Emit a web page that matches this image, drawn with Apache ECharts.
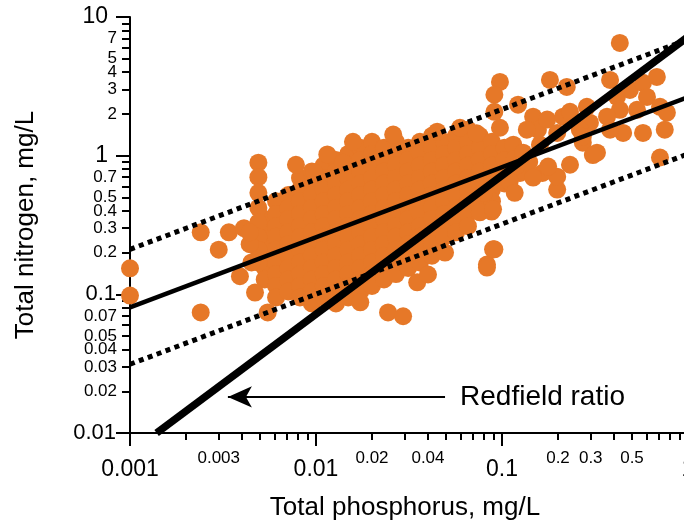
<!DOCTYPE html>
<html><head><meta charset="utf-8">
<script src="https://cdn.jsdelivr.net/npm/echarts@6/dist/echarts.min.js"></script>
<style>html,body{margin:0;padding:0;background:#fff}#c{width:684px;height:525px}</style>
</head><body><div id="c"></div>
<script>
// ---- data (total phosphorus mg/L, total nitrogen mg/L) ----
// dense core of the cloud, one phosphorus value per column with its nitrogen values
const coreColumns = [
  [0.0053, [0.35, 0.285, 0.23, 0.19, 0.155, 0.128]],
  [0.0061, [0.47, 0.38, 0.31, 0.26, 0.21, 0.17, 0.14, 0.115, 0.095]],
  [0.0071, [0.52, 0.42, 0.35, 0.28, 0.23, 0.19, 0.155, 0.128, 0.105]],
  [0.0082, [0.69, 0.57, 0.47, 0.38, 0.31, 0.26, 0.21, 0.17, 0.14, 0.115, 0.095]],
  [0.0095, [0.77, 0.63, 0.52, 0.42, 0.35, 0.28, 0.23, 0.19, 0.155, 0.128, 0.105, 0.086]],
  [0.011,  [0.85, 0.69, 0.57, 0.47, 0.38, 0.31, 0.26, 0.21, 0.17, 0.14, 0.115, 0.095]],
  [0.0128, [0.93, 0.77, 0.63, 0.52, 0.42, 0.35, 0.28, 0.23, 0.19, 0.155, 0.128, 0.105, 0.086]],
  [0.0149, [1.03, 0.85, 0.69, 0.57, 0.47, 0.38, 0.31, 0.26, 0.21, 0.17, 0.14, 0.115, 0.095]],
  [0.0173, [1.14, 0.93, 0.77, 0.63, 0.52, 0.42, 0.35, 0.28, 0.23, 0.19, 0.155, 0.128, 0.105]],
  [0.020,  [1.26, 1.03, 0.85, 0.69, 0.57, 0.47, 0.38, 0.31, 0.26, 0.21, 0.17, 0.14, 0.115]],
  [0.0232, [1.14, 0.93, 0.77, 0.63, 0.52, 0.42, 0.35, 0.28, 0.23, 0.19, 0.155, 0.128]],
  [0.0269, [1.26, 1.03, 0.85, 0.69, 0.57, 0.47, 0.38, 0.31, 0.26, 0.21, 0.17, 0.14]],
  [0.0313, [1.14, 0.93, 0.77, 0.63, 0.52, 0.42, 0.35, 0.28, 0.23, 0.19, 0.155]],
  [0.0362, [1.26, 1.03, 0.85, 0.69, 0.57, 0.47, 0.38, 0.31, 0.26, 0.21, 0.17]],
  [0.042,  [1.39, 1.14, 0.93, 0.77, 0.63, 0.52, 0.42, 0.35, 0.28, 0.23, 0.19]],
  [0.0488, [1.26, 1.03, 0.85, 0.69, 0.57, 0.47, 0.38, 0.31, 0.26]],
  [0.0566, [1.39, 1.14, 0.93, 0.77, 0.63, 0.52, 0.42, 0.35, 0.28]],
  [0.0656, [1.54, 1.26, 1.03, 0.85, 0.69, 0.57, 0.47, 0.38, 0.31]],
  [0.076,  [1.39, 1.14, 0.93, 0.77, 0.63, 0.52, 0.42]],
  [0.0883, [1.26, 1.03, 0.85, 0.69, 0.57, 0.47]],
  [0.103,  [1.14, 0.93, 0.77, 0.63]]
];
// low-phosphorus samples
const lowSamples = [
  [0.001, 0.154], [0.001, 0.098], [0.0024, 0.28], [0.003, 0.21], [0.0034, 0.28],
  [0.0041, 0.30], [0.0024, 0.074], [0.0039, 0.135], [0.0047, 0.103], [0.0055, 0.074],
  [0.0049, 0.89], [0.0049, 0.70], [0.0049, 0.54], [0.0049, 0.42], [0.0049, 0.33],
  [0.0049, 0.26], [0.0049, 0.21], [0.0049, 0.17], [0.0044, 0.23], [0.0044, 0.28], [0.0045, 0.17]
];
// samples on the edges of the core
const edgeSamples = [
  [0.0078, 0.86], [0.0115, 1.02], [0.0098, 0.755], [0.014, 0.89], [0.0158, 1.26],
  [0.026, 1.42], [0.0448, 1.49], [0.0594, 1.59], [0.073, 1.45], [0.0244, 0.074], [0.0294, 0.0695],
  [0.035, 0.122], [0.04, 0.139], [0.0494, 0.20], [0.083, 0.164], [0.0895, 0.211],
  [0.088, 0.395], [0.076, 0.39], [0.0173, 0.0876], [0.0895, 0.41], [0.091, 0.211], [0.083, 0.156],
  [0.08, 0.54], [0.115, 1.2], [0.117, 0.95], [0.125, 0.75], [0.13, 1.05], [0.11, 0.65],
  [0.12, 0.85], [0.16, 1.2], [0.165, 0.75], [0.14, 0.9], [0.117, 0.54]
];
// high-phosphorus samples
const highSamples = [
  [0.43, 6.5], [0.0975, 3.4], [0.091, 2.75], [0.181, 3.52], [0.223, 3.13], [0.122, 2.33],
  [0.091, 2.07], [0.0975, 1.59], [0.147, 1.91], [0.156, 1.54], [0.136, 1.54], [0.175, 1.82],
  [0.213, 1.91], [0.232, 2.07], [0.198, 1.46], [0.286, 2.25], [0.297, 1.73], [0.262, 1.54],
  [0.272, 1.24], [0.324, 1.05], [0.381, 3.52], [0.415, 2.65], [0.487, 2.98], [0.573, 3.35],
  [0.68, 3.7], [0.602, 2.65], [0.43, 2.14], [0.532, 2.14], [0.707, 2.25], [0.77, 2.04],
  [0.75, 1.54], [0.573, 1.46], [0.448, 1.46], [0.381, 1.54], [0.367, 1.91], [0.707, 0.97],
  [0.232, 0.86], [0.198, 0.569], [0.198, 0.706], [0.177, 0.834], [0.147, 0.695],
  [0.308, 1.01], [0.272, 1.37]
];
// fitted lines (endpoints in mg/L)
const regressionLine = [[0.001, 0.0805], [1, 2.64]];
const upperBound = [[0.001, 0.211], [1, 6.9]];
const lowerBound = [[0.001, 0.0313], [1, 1.03]];
const redfieldLine = [[0.00139, 0.01], [1, 7.2]];
const arrowFrom = [0.0494, 0.0182], arrowTo = [0.00336, 0.0182];
const annotationText = 'Redfield ratio';
// tick labels
const xMinorLabels = [0.003, 0.02, 0.04, 0.2, 0.3, 0.5];
const yMinorLabels = [0.02, 0.03, 0.04, 0.05, 0.07, 0.2, 0.3, 0.4, 0.5, 0.7, 2, 3, 4, 5, 7];

const points = [];
coreColumns.forEach(c => c[1].forEach(n => points.push([c[0], n])));
lowSamples.concat(edgeSamples, highSamples).forEach(p => points.push(p));

const FONT = 'Liberation Sans, Arial, Helvetica, sans-serif';
const ORANGE = '#e67828';
const INK = '#000';
const fmt = v => String(+(+v).toPrecision(6));
const yMajorFmt = v => (+v >= 1 ? '{w|' : '{n|') + fmt(v) + '}';

const chart = echarts.init(document.getElementById('c'), null, {renderer: 'canvas'});
chart.setOption({
  animation: false,
  backgroundColor: '#fff',
  grid: {left: 130, right: -4, top: 17, bottom: 92, outerBoundsMode: 'none', containLabel: false},
  xAxis: [{
    type: 'log', logBase: 10, min: 0.001, max: 1, position: 'bottom',
    axisLine: {lineStyle: {color: INK, width: 2}},
    axisTick: {length: 13, lineStyle: {color: INK, width: 2}},
    minorTick: {show: true, splitNumber: 9, length: 7, lineStyle: {color: INK, width: 2}},
    splitLine: {show: false}, minorSplitLine: {show: false},
    axisLabel: {fontSize: 23, color: INK, margin: 25, fontFamily: FONT, formatter: fmt},
    name: 'Total phosphorus, mg/L', nameLocation: 'middle', nameGap: 62,
    nameTextStyle: {fontSize: 26, color: INK, fontFamily: FONT, padding: [0, 8, 0, 0]}
  }, {
    type: 'log', logBase: 10, min: 0.001, max: 1, position: 'bottom',
    axisLine: {show: false}, axisTick: {show: false}, splitLine: {show: false},
    axisLabel: {customValues: xMinorLabels, fontSize: 17, color: INK, margin: 17, fontFamily: FONT, formatter: fmt}
  }],
  yAxis: [{
    type: 'log', logBase: 10, min: 0.01, max: 10, position: 'left',
    axisLine: {lineStyle: {color: INK, width: 2}},
    axisTick: {length: 14, lineStyle: {color: INK, width: 2}},
    minorTick: {show: true, splitNumber: 9, length: 8, lineStyle: {color: INK, width: 2}},
    splitLine: {show: false}, minorSplitLine: {show: false},
    axisLabel: {fontSize: 22, color: INK, margin: 12, fontFamily: FONT, formatter: yMajorFmt,
      rich: {
        w: {fontSize: 23, color: INK, fontFamily: FONT, padding: [0, 10, 0, 0]},
        n: {fontSize: 22, color: INK, fontFamily: FONT, padding: [0, 2, 0, 0]}
      }},
    name: 'Total nitrogen, mg/L', nameLocation: 'middle', nameGap: 91, nameRotate: 90,
    nameTextStyle: {fontSize: 26, color: INK, fontFamily: FONT}
  }, {
    type: 'log', logBase: 10, min: 0.01, max: 10, position: 'left',
    axisLine: {show: false}, axisTick: {show: false}, splitLine: {show: false},
    axisLabel: {customValues: yMinorLabels, fontSize: 17, color: INK, margin: 13, fontFamily: FONT, formatter: fmt}
  }],
  series: [{
    type: 'scatter', data: points, symbol: 'circle', symbolSize: 18, z: 2,
    itemStyle: {color: ORANGE, opacity: 1}, clip: false
  }, {
    type: 'line', data: upperBound, showSymbol: false, z: 4,
    lineStyle: {color: INK, width: 5, type: [5, 4.5], cap: 'butt'}
  }, {
    type: 'line', data: lowerBound, showSymbol: false, z: 4,
    lineStyle: {color: INK, width: 5, type: [5, 4.5], cap: 'butt'}
  }, {
    type: 'line', data: regressionLine, showSymbol: false, z: 4,
    lineStyle: {color: INK, width: 4.5}
  }, {
    type: 'line', data: redfieldLine, showSymbol: false, z: 5,
    lineStyle: {color: INK, width: 7.5}
  }, {
    type: 'line', data: [], z: 5, silent: true,
    markLine: {
      silent: true, symbol: ['none', 'arrow'], symbolSize: [16, 24],
      lineStyle: {color: INK, width: 2, type: 'solid'},
      label: {show: true, position: 'start', distance: 15, formatter: annotationText,
        fontSize: 28, color: INK, fontFamily: FONT},
      emphasis: {disabled: true},
      data: [[{coord: arrowFrom}, {coord: arrowTo}]]
    }
  }]
});
</script></body></html>
